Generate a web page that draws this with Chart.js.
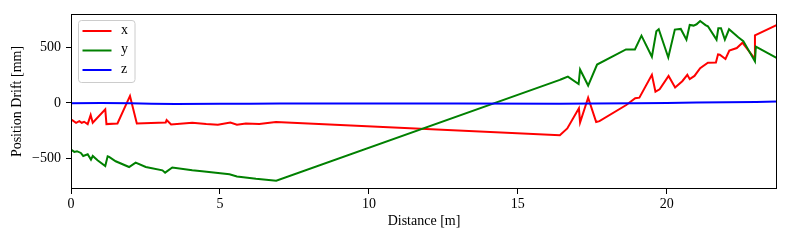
<!DOCTYPE html>
<html>
<head>
<meta charset="utf-8">
<script src="https://cdn.jsdelivr.net/npm/chart.js@4/dist/chart.umd.min.js"></script>
<style>
  html, body { margin: 0; padding: 0; background: #fff; }
  #wrap { width: 790px; height: 240px; }
</style>
</head>
<body>
<div id="wrap"><canvas id="c" width="790" height="240"></canvas></div>
<script>
// ---- data (Distance [m], Position Drift [mm]) ----
const seriesNames = ['x', 'y', 'z'];
const xTicks = [0, 5, 10, 15, 20];
const yTicks = [-500, 0, 500];

const xDist = [0,0.17,0.28,0.36,0.44,0.56,0.66,0.73,1.15,1.19,1.56,1.98,2.21,3.18,3.21,3.36,4.07,4.54,4.93,5.35,5.57,5.87,6.32,6.88,16.41,16.66,17.05,17.09,17.36,17.63,17.74,18.64,18.94,19.08,19.5,19.62,19.76,20.06,20.28,20.52,20.69,20.77,20.93,21.12,21.38,21.65,21.72,21.78,21.97,22.1,22.35,22.54,22.94,22.96,23.7];
const xDrift = [-148,-179,-164,-179,-170,-191,-109,-179,-57,-191,-185,64,-185,-176,-155,-195,-179,-191,-197,-176,-197,-185,-191,-173,-291,-230,-48,-176,48,-172,-164,-18,43,48,255,103,124,245,141,197,255,216,245,315,364,367,440,436,398,474,497,545,405,612,706];

const yDist = [0,0.11,0.2,0.33,0.41,0.56,0.67,0.73,0.89,1.15,1.23,1.28,1.5,1.95,2.17,2.51,3.07,3.16,3.4,4.07,4.4,5.32,5.57,6.21,6.89,16.41,16.46,16.68,17.04,17.09,17.36,17.66,18.63,18.93,19.15,19.5,19.65,19.73,20.05,20.27,20.47,20.66,20.77,20.9,21.0,21.12,21.3,21.38,21.67,21.73,21.82,21.95,22.09,22.4,22.57,22.96,22.99,23.7];
const yDrift = [-421,-442,-436,-452,-479,-464,-512,-479,-518,-570,-482,-488,-527,-579,-539,-579,-609,-630,-584,-609,-618,-645,-664,-685,-703,209,215,239,172,303,158,348,485,485,609,418,648,667,412,664,670,573,706,700,712,742,705,694,573,676,676,573,667,594,560,376,509,406];

const zDist = [0,1,2,2.7,3.5,5,6,7,10,13,16.4,17.5,19,20,21,22,23,23.7];
const zDrift = [-2,-1,-2,-7,-8,-6,-6,-5,-4,-4,-6,-5,-2,1,4,7,9,13];

const colors = ['#ff0000', '#008000', '#0000ff'];

function pts(xs, ys) { return xs.map((v, i) => ({ x: v, y: ys[i] })); }

const FONT = "'Liberation Serif', 'DejaVu Serif', serif";

const framePlugin = {
  id: 'frame',
  afterDraw(chart) {
    const { ctx, chartArea: a } = chart;
    ctx.save();
    ctx.strokeStyle = '#000';
    ctx.lineWidth = 1;
    ctx.strokeRect(Math.round(a.left) + 0.5, Math.round(a.top) + 0.5,
                   Math.round(a.right - a.left) - 1, Math.round(a.bottom - a.top) - 1);
    ctx.restore();
  }
};

const legendPlugin = {
  id: 'innerLegend',
  afterDraw(chart) {
    const { ctx, chartArea: a } = chart;
    const bx = a.left + 7.5, by = a.top + 6.5, bw = 56.5, bh = 62, r = 3;
    ctx.save();
    ctx.beginPath();
    ctx.moveTo(bx + r, by);
    ctx.lineTo(bx + bw - r, by);
    ctx.quadraticCurveTo(bx + bw, by, bx + bw, by + r);
    ctx.lineTo(bx + bw, by + bh - r);
    ctx.quadraticCurveTo(bx + bw, by + bh, bx + bw - r, by + bh);
    ctx.lineTo(bx + r, by + bh);
    ctx.quadraticCurveTo(bx, by + bh, bx, by + bh - r);
    ctx.lineTo(bx, by + r);
    ctx.quadraticCurveTo(bx, by, bx + r, by);
    ctx.closePath();
    ctx.fillStyle = 'rgba(255,255,255,0.8)';
    ctx.fill();
    ctx.strokeStyle = '#cccccc';
    ctx.lineWidth = 1;
    ctx.stroke();
    const rows = [17, 36.5, 56];
    chart.data.datasets.forEach((ds, i) => {
      const y = a.top + rows[i];
      ctx.beginPath();
      ctx.moveTo(a.left + 11.5, y);
      ctx.lineTo(a.left + 40.5, y);
      ctx.strokeStyle = ds.borderColor;
      ctx.lineWidth = 2;
      ctx.stroke();
      ctx.fillStyle = '#000';
      ctx.font = '14px ' + FONT;
      ctx.textBaseline = 'middle';
      ctx.textAlign = 'left';
      ctx.fillText(ds.label, a.left + 50, y - 1);
    });
    ctx.restore();
  }
};

new Chart(document.getElementById('c'), {
  type: 'line',
  data: {
    datasets: [
      { label: seriesNames[0], data: pts(xDist, xDrift), borderColor: colors[0], order: 3 },
      { label: seriesNames[1], data: pts(yDist, yDrift), borderColor: colors[1], order: 2 },
      { label: seriesNames[2], data: pts(zDist, zDrift), borderColor: colors[2], order: 1 }
    ].map(d => Object.assign(d, { borderWidth: 2, pointRadius: 0, tension: 0, fill: false, backgroundColor: d.borderColor }))
  },
  plugins: [framePlugin, legendPlugin],
  options: {
    responsive: false,
    animation: false,
    events: [],
    layout: { padding: { left: 0, right: 13, top: 14, bottom: 0 } },
    plugins: { legend: { display: false }, tooltip: { enabled: false } },
    scales: {
      x: {
        type: 'linear',
        min: 0, max: 23.7,
        afterFit(s) { s.height = 51; },
        afterBuildTicks(s) { s.ticks = xTicks.map(v => ({ value: v })); },
        grid: { display: true, drawOnChartArea: false, drawTicks: true, tickLength: 5, color: '#000', tickColor: '#000' },
        border: { display: false },
        ticks: { color: '#000', font: { family: FONT, size: 14 }, padding: 2, maxRotation: 0,
                 callback: v => String(v) },
        title: { display: true, text: 'Distance [m]', color: '#000', font: { family: FONT, size: 14 }, padding: { top: 0, bottom: 10 } }
      },
      y: {
        type: 'linear',
        min: -778, max: 805,
        afterFit(s) { s.width = 71; },
        afterBuildTicks(s) { s.ticks = yTicks.map(v => ({ value: v })); },
        grid: { display: true, drawOnChartArea: false, drawTicks: true, tickLength: 5, color: '#000', tickColor: '#000' },
        border: { display: false },
        ticks: { color: '#000', font: { family: FONT, size: 14 }, padding: 5,
                 callback: v => String(v).replace('-', '\u2212') },
        title: { display: true, text: 'Position Drift [mm]', color: '#000', font: { family: FONT, size: 14 }, padding: { top: 9, bottom: 0 } }
      }
    }
  }
});
</script>
</body>
</html>
